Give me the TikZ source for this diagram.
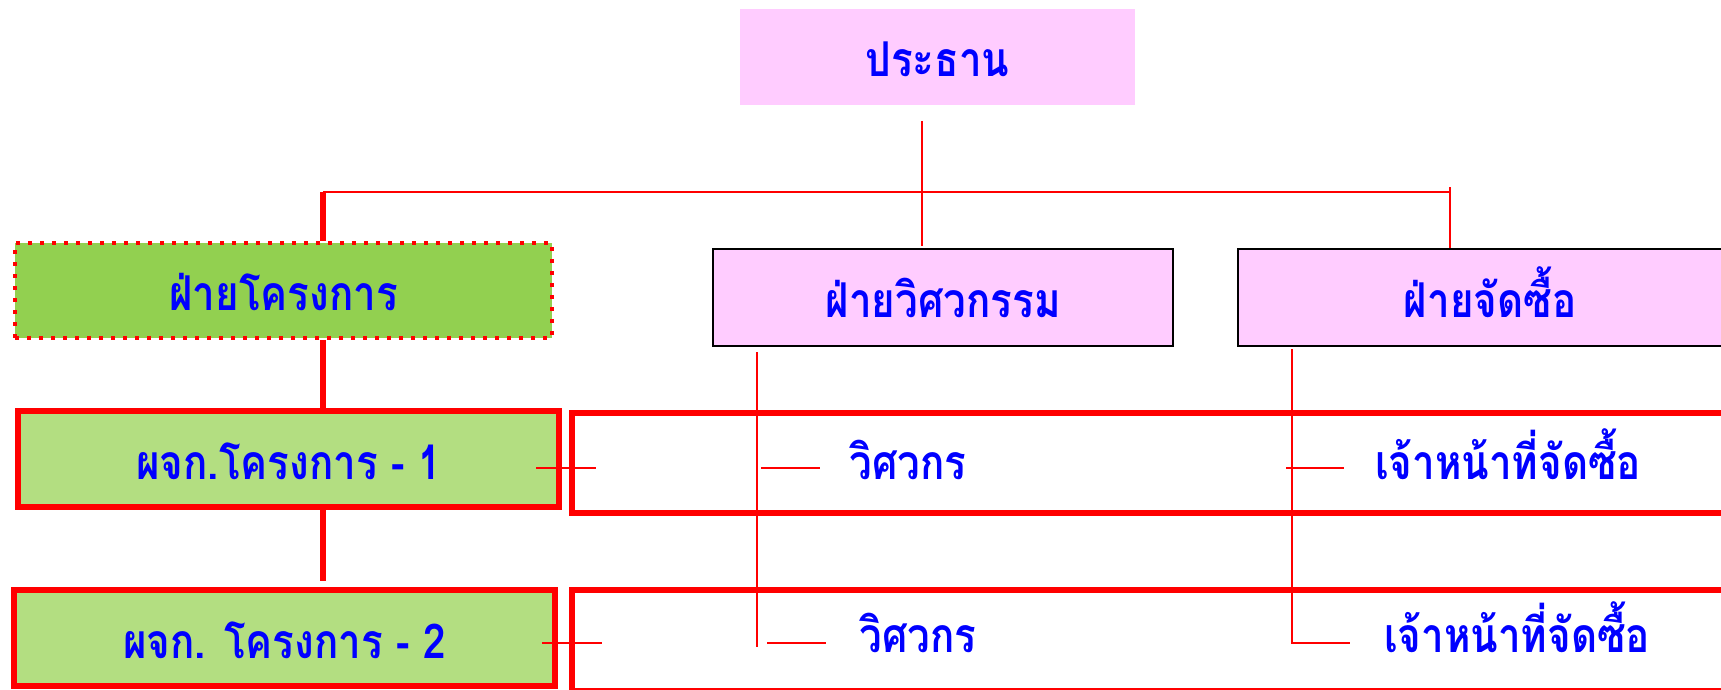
\documentclass[tikz,border=0pt]{standalone}
\usepackage{fontspec}
\newfontfamily\thaifont[Script=Thai]{Loma}
\newcommand{\narrowthai}[1]{\scalebox{0.84}[1]{#1}}
\definecolor{boxpink}{RGB}{255,204,255}
\definecolor{deptgreen}{RGB}{146,208,80}
\definecolor{mgrgreen}{RGB}{179,222,129}
\definecolor{textblue}{RGB}{0,0,255}
\definecolor{linered}{RGB}{255,0,0}

\begin{document}
\begin{tikzpicture}[x=1pt,y=-1pt,
    thaitext/.style={font=\thaifont\bfseries\fontsize{48}{50}\selectfont, text=textblue,
      text height=40pt, text depth=0pt, inner sep=0pt},
    pinkbox/.style={thaitext, fill=boxpink, minimum width=460pt, minimum height=97pt},
    deptbox/.style={thaitext, fill=deptgreen, draw=linered, line width=4.5pt,
      dash pattern=on 4pt off 8pt, minimum width=537pt, minimum height=95pt},
    mgrbox/.style={thaitext, fill=mgrgreen, draw=linered, line width=6pt,
      minimum width=541pt, minimum height=96pt},
    rowbox/.style={draw=linered, line width=6pt, outer sep=0pt, minimum width=1200pt},
    thinline/.style={draw=linered, line width=1.8pt},
    thickline/.style={draw=linered, line width=6pt}]

  \clip (0,0) rectangle (1721,690);

  % Top box
  \node[pinkbox, minimum width=395pt, minimum height=96pt] (chair) at (937.5,57) {\narrowthai{ประธาน}};

  % Departments
  \node[deptbox] (proj) at (283.5,290.5) {\narrowthai{ฝ่ายโครงการ}};
  \node[pinkbox, draw=black, line width=2.3pt] (eng) at (943,297.5) {\narrowthai{ฝ่ายวิศวกรรม}};
  \node[pinkbox, draw=black, line width=2.3pt, minimum width=504pt] (purch) at (1490,297.5) {\narrowthai{ฝ่ายจัดซื้อ}};

  % Project managers
  \node[mgrbox] (mgr1) at (288.5,459) {\narrowthai{ผจก.โครงการ - 1}};
  \node[mgrbox] (mgr2) at (284.5,638) {\narrowthai{ผจก. โครงการ - 2}};

  % Rows of staff
  \node[rowbox, minimum height=100.5pt, anchor=north west] (row1) at (572,412.5) {};
  \node[rowbox, minimum height=101pt, anchor=north west] (row2) at (572,590) {};
  \node[thaitext] (eng1) at (908,459) {\narrowthai{วิศวกร}};
  \node[thaitext] (eng2) at (918,632) {\narrowthai{วิศวกร}};
  \node[thaitext] (buy1) at (1508,459) {\narrowthai{เจ้าหน้าที่จัดซื้อ}};
  \node[thaitext] (buy2) at (1517,632) {\narrowthai{เจ้าหน้าที่จัดซื้อ}};

  % Lines from the top
  \coordinate (spine) at (323,192);
  \coordinate (busend) at (1450,192);
  \draw[thinline] (922,121) -- (922,246);
  \draw[thinline] (spine) -- (busend);
  \draw[thinline] ([yshift=5pt]busend) -- (busend |- purch.north);
  \draw[thickline] (spine) -- (spine |- proj.north);

  % Project line
  \draw[thickline] (proj.south -| spine) -- (mgr1.north -| spine);
  \draw[thickline] (mgr1.south -| spine) -- ([yshift=6pt]mgr2.north -| spine);

  % Lines to the staff
  \coordinate (engline) at (757,352);
  \coordinate (buyline) at (1292,349);
  \draw[thinline] (engline) -- (757,647);
  \draw[thinline] (buyline) -- (1292,643) -- (1350,643);
  \draw[thinline] (536,468) -- (596,468);
  \draw[thinline] (761,468) -- (820,468);
  \draw[thinline] (1286,468) -- (1344,468);
  \draw[thinline] (542,643) -- (602,643);
  \draw[thinline] (767,643) -- (826,643);

\end{tikzpicture}
\end{document}
